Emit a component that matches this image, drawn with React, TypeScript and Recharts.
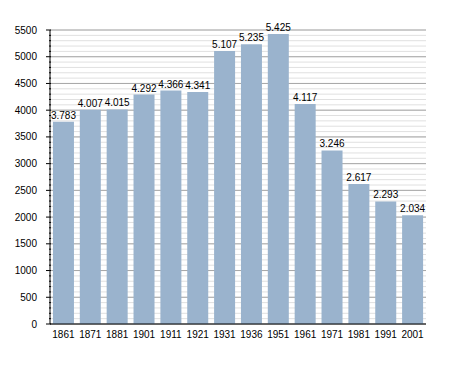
import { BarChart, Bar, XAxis, YAxis, CartesianGrid, LabelList } from "recharts";

const years = ["1861", "1871", "1881", "1901", "1911", "1921", "1931", "1936", "1951", "1961", "1971", "1981", "1991", "2001"];
const population = [3783, 4007, 4015, 4292, 4366, 4341, 5107, 5235, 5425, 4117, 3246, 2617, 2293, 2034];

const majorTicks = [0, 500, 1000, 1500, 2000, 2500, 3000, 3500, 4000, 4500, 5000, 5500];
const minorTicks = Array.from({ length: 56 }, (_, i) => i * 100);

const FONT = "'Liberation Sans', Arial, sans-serif";

const data = years.map((y, i) => ({ year: y, value: population[i] }));

// 3783 -> "3.783"
const fmt = (v: number) => {
  const s = String(v);
  return s.length > 3 ? s.slice(0, -3) + "." + s.slice(-3) : s;
};

const YTick = (props: any) => {
  const { x, y, payload } = props;
  const major = payload.value % 500 === 0;
  return (
    <g>
      {major ? (
        <>
          <line x1={x - 4} x2={x + 1} y1={y} y2={y} stroke="#000" />
          <text
            x={x - 13}
            y={y}
            dy={3.5}
            textAnchor="end"
            fontSize={10}
            fontFamily={FONT}
            fill="#000"
          >
            {payload.value}
          </text>
        </>
      ) : (
        <line x1={x - 1} x2={x + 1} y1={y} y2={y} stroke="#000" />
      )}
    </g>
  );
};

export default function App() {
  return (
    <div style={{ position: "absolute", left: 0, top: 0, background: "#fff" }}>
      <BarChart
        width={455}
        height={373}
        data={data}
        margin={{ top: 30, right: 29, left: 0, bottom: 29 }}
        barCategoryGap="11%"
      >
        <CartesianGrid vertical={false} horizontalValues={minorTicks} stroke="#e0e0e0" />
        <CartesianGrid vertical={false} horizontalValues={majorTicks} stroke="#a8a8a8" />
        <YAxis
          width={50}
          domain={[0, 5500]}
          ticks={minorTicks}
          interval={0}
          tickSize={0}
          tickMargin={0}
          tickLine={false}
          axisLine={{ stroke: "#000" }}
          tick={<YTick />}
        />
        <XAxis
          dataKey="year"
          height={20}
          interval={0}
          tickLine={false}
          axisLine={{ stroke: "#000" }}
          tick={{ fontSize: 10, fill: "#000", fontFamily: FONT }}
          tickMargin={1}
        />
        <Bar dataKey="value" fill="#9ab3cd" isAnimationActive={false}>
          <LabelList
            dataKey="value"
            position="top"
            offset={3}
            formatter={(v: any) => fmt(Number(v))}
            style={{ fontSize: 10, fill: "#000", fontFamily: FONT }}
          />
        </Bar>
      </BarChart>
    </div>
  );
}
